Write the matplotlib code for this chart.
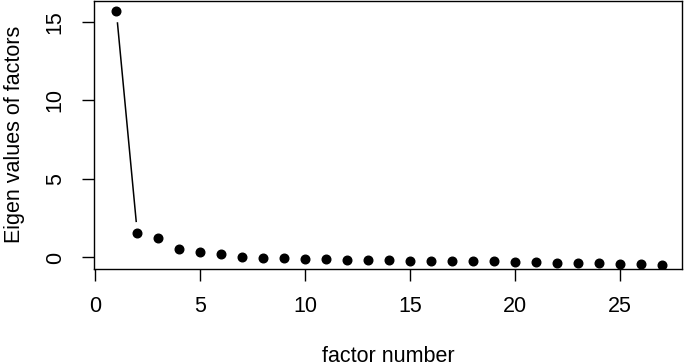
import numpy as np
import matplotlib.pyplot as plt

plt.rcParams["font.family"] = ["Liberation Sans", "DejaVu Sans"]

factor_number = list(range(1, 28))
eigen_values = [15.68, 1.54, 1.22, 0.54, 0.37, 0.22, 0.05, -0.01, -0.05,
                -0.10, -0.11, -0.14, -0.18, -0.19, -0.20, -0.22, -0.23, -0.24,
                -0.25, -0.29, -0.31, -0.32, -0.34, -0.37, -0.39, -0.41, -0.46]
x_ticks = [0, 5, 10, 15, 20, 25]
y_ticks = [0, 5, 10, 15]

W, H = 685, 362
fig = plt.figure(figsize=(W / 100, H / 100), dpi=100)
ax = fig.add_axes([94.3 / W, 1 - 268.5 / H, (682 - 94.3) / W, (268.5 - 1) / H])

ax.set_xlim(-0.05, 27.95)
ax.set_ylim(-0.70, 16.32)

ax.plot(factor_number, eigen_values, "o", color="black", markersize=6.2)

# R type="b": segments between points with a gap around each point
GAP = 12.0  # pixels
pts = ax.transData.transform(np.column_stack([factor_number, eigen_values]))
inv = ax.transData.inverted()
for p0, p1 in zip(pts[:-1], pts[1:]):
    d = p1 - p0
    length = np.hypot(*d)
    if length <= 2 * GAP:
        continue
    u = d / length
    a = inv.transform(p0 + u * GAP)
    b = inv.transform(p1 - u * GAP)
    ax.plot([a[0], b[0]], [a[1], b[1]], color="black", linewidth=1.1)

ax.set_xticks(x_ticks)
ax.set_yticks(y_ticks)
ax.tick_params(axis="both", direction="out", length=8.6, width=1.0,
               labelsize=15.5, color="black")
ax.tick_params(axis="x", pad=11)
ax.tick_params(axis="y", pad=12)
for lab in ax.get_yticklabels():
    lab.set_rotation(90)
    lab.set_va("center")

for s in ax.spines.values():
    s.set_linewidth(1.0)

ax.set_xlabel("factor number", fontsize=15.5, labelpad=21)
ax.set_ylabel("Eigen values of factors", fontsize=15.5, labelpad=14)

fig.savefig("out.png", dpi=100)
